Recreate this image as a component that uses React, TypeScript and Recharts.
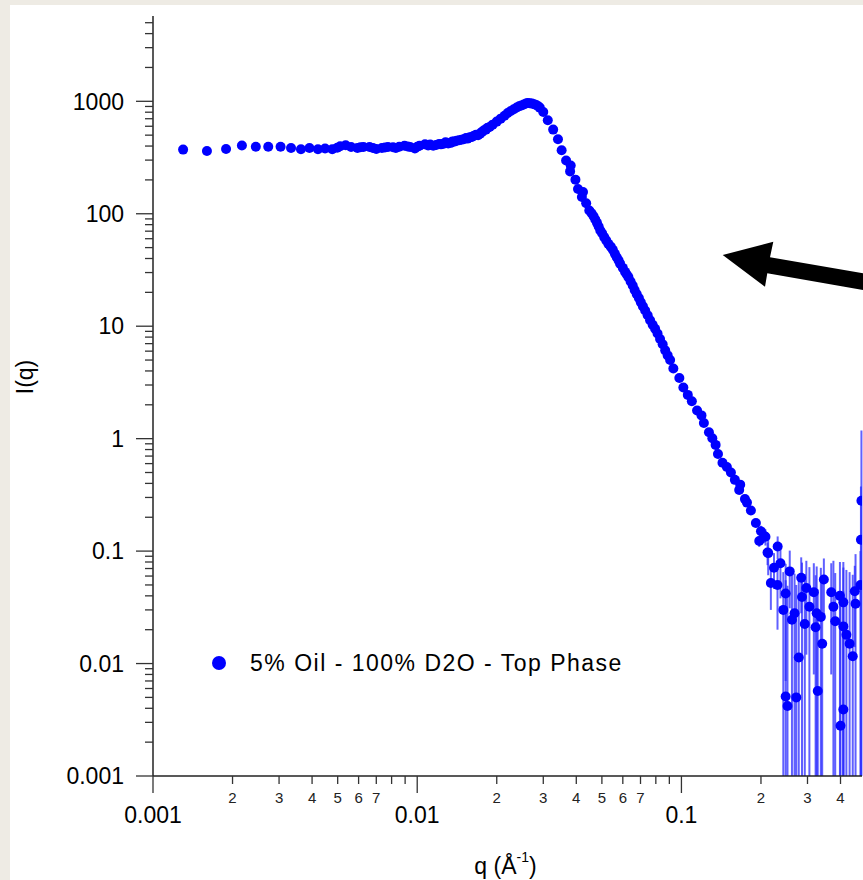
import { ErrorBar, Legend, Scatter, ScatterChart, XAxis, YAxis } from "recharts";

const FONT = "'Liberation Sans', Arial, sans-serif";
const seriesName = "5% Oil - 100% D2O - Top Phase";

// q (Å^-1), I(q) — low-q plateau
const plateau: [number, number][] = [
  [0.0013, 372], [0.0016, 362], [0.00189, 377], [0.00217, 404], [0.00245, 395], [0.00273, 395],
  [0.00304, 395], [0.00333, 384], [0.00363, 374], [0.00391, 384], [0.00421, 374], [0.00448, 381],
  [0.00477, 374], [0.00498, 386], [0.00511, 398], [0.00536, 406], [0.00562, 392], [0.00594, 384],
  [0.0061, 390], [0.00626, 392], [0.0066, 392], [0.0068, 385], [0.007, 376], [0.00735, 384],
  [0.00755, 388], [0.00775, 392], [0.0081, 390], [0.0083, 384], [0.00855, 395], [0.00895, 403],
  [0.0092, 396], [0.0094, 392], [0.0098, 381], [0.01, 395], [0.0102, 403], [0.0107, 414],
  [0.011, 405], [0.0112, 412], [0.0115, 403], [0.0118, 408], [0.0121, 418], [0.0123, 414],
  [0.0126, 420], [0.0128, 432], [0.0131, 422], [0.0134, 427], [0.0136, 440], [0.0138, 438],
  [0.0141, 446], [0.0144, 450], [0.0147, 455], [0.015, 460], [0.0153, 472], [0.0155, 466],
  [0.0158, 478], [0.0161, 481], [0.0164, 495], [0.0167, 505], [0.017, 500], [0.0173, 516],
  [0.0176, 535], [0.0179, 552], [0.0182, 560], [0.0184, 579],
];

// correlation peak and its fall-off
const peak: [number, number][] = [
  [0.0188, 592], [0.0193, 620], [0.02, 660], [0.0207, 701], [0.0214, 745], [0.022, 787],
  [0.0226, 820], [0.0232, 849], [0.0238, 880], [0.0243, 903], [0.0248, 920], [0.0253, 935],
  [0.0258, 955], [0.0262, 966], [0.0267, 962], [0.0272, 954], [0.0277, 942], [0.0282, 927],
  [0.0287, 905], [0.0291, 879], [0.03, 803], [0.0312, 678], [0.0327, 560], [0.0341, 459],
  [0.0352, 367], [0.0366, 298], [0.0379, 238], [0.0381, 269], [0.0397, 201], [0.0406, 166],
  [0.042, 141], [0.0424, 156], [0.0436, 124],
];

// power-law decay
const decay: [number, number][] = [
  [0.0448, 107], [0.0457, 101], [0.0465, 95], [0.0472, 89], [0.0479, 83], [0.0486, 77],
  [0.0493, 71], [0.0501, 67], [0.051, 62], [0.0519, 58], [0.0529, 54], [0.054, 51],
  [0.055, 47.9], [0.056, 44], [0.0569, 41], [0.0578, 38.5], [0.0586, 36], [0.06, 33],
  [0.0612, 30.4], [0.0621, 28.8], [0.063, 27.3], [0.0642, 25], [0.0654, 23], [0.0665, 21],
  [0.0677, 19.3], [0.069, 17.8], [0.0702, 16.3], [0.0715, 15], [0.0729, 13.8], [0.0745, 12.5],
  [0.0761, 11.3], [0.0778, 10.3], [0.0795, 9.5], [0.0812, 8.6], [0.083, 7.7], [0.0849, 6.9],
  [0.0868, 6.1], [0.0887, 5.5], [0.0906, 5], [0.0932, 4.21], [0.0982, 3.46], [0.1017, 2.85],
  [0.1057, 2.45], [0.1095, 2.15], [0.1146, 1.78], [0.1191, 1.61], [0.1216, 1.38], [0.1271, 1.14],
  [0.1309, 1.01], [0.1347, 0.88], [0.1375, 0.73], [0.143, 0.61], [0.1486, 0.56], [0.1539, 0.5],
  [0.1593, 0.43], [0.1654, 0.35], [0.1669, 0.39], [0.1739, 0.29], [0.177, 0.27], [0.1832, 0.23],
];

// noisy high-q points: q, I, sigma
const highQ: [number, number, number][] = [
  [0.1913, 0.178, 0.014], [0.197, 0.123, 0.014], [0.2, 0.15, 0.018], [0.2058, 0.136, 0.018],
  [0.208, 0.134, 0.022], [0.2118, 0.097, 0.022], [0.213, 0.096, 0.035], [0.218, 0.052, 0.022],
  [0.224, 0.071, 0.025], [0.2313, 0.11, 0.025], [0.231, 0.05, 0.03], [0.237, 0.078, 0.04],
  [0.243, 0.03, 0.035], [0.248, 0.042, 0.035], [0.248, 0.0051, 0.05], [0.252, 0.0042, 0.045],
  [0.257, 0.066, 0.035], [0.262, 0.0245, 0.04], [0.268, 0.028, 0.035], [0.272, 0.005, 0.045],
  [0.278, 0.0113, 0.05], [0.284, 0.058, 0.03], [0.286, 0.039, 0.04], [0.293, 0.0225, 0.04],
  [0.297, 0.047, 0.035], [0.305, 0.032, 0.04], [0.317, 0.043, 0.035], [0.322, 0.021, 0.04],
  [0.325, 0.028, 0.045], [0.328, 0.0057, 0.04], [0.337, 0.026, 0.045], [0.341, 0.015, 0.04],
  [0.346, 0.056, 0.03], [0.369, 0.043, 0.035], [0.376, 0.032, 0.05], [0.382, 0.0238, 0.04],
  [0.398, 0.04, 0.04], [0.4, 0.0028, 0.03], [0.41, 0.035, 0.045], [0.41, 0.0214, 0.05],
  [0.41, 0.0039, 0.04], [0.421, 0.018, 0.05], [0.433, 0.015, 0.05], [0.445, 0.0116, 0.05],
  [0.453, 0.044, 0.03], [0.456, 0.034, 0.06], [0.476, 0.05, 0.05], [0.478, 0.126, 0.25],
  [0.48, 0.28, 0.9],
];

const xDecades = [0.001, 0.01, 0.1];
const yDecades = [0.001, 0.01, 0.1, 1, 10, 100, 1000];
const mantissas = [1, 2, 3, 4, 5, 6, 7, 8, 9];
const xDomain: [number, number] = [0.001, 0.4824];
const yDomain: [number, number] = [0.001, 5736];

const xTicks = xDecades.flatMap((d) => mantissas.map((m) => m * d)).filter((v) => v <= xDomain[1]);
const yTicks = yDecades.flatMap((d) => mantissas.map((m) => m * d)).filter((v) => v <= yDomain[1]);

const points = [
  ...[...plateau, ...peak, ...decay].map(([q, i]) => ({ q, i, err: [0, 0] })),
  // lower error clipped at the axis floor so the log scale stays finite
  ...highQ.map(([q, i, s]) => ({ q, i, err: [Math.min(s, i - yDomain[0]), s] })),
];

function mantissaOf(v: number) {
  const exp = Math.floor(Math.log10(v) + 1e-9);
  return Math.round(v / 10 ** exp);
}

function XTick({ x, y, payload }: any) {
  const m = mantissaOf(payload.value);
  const major = m === 1;
  return (
    <g>
      <line x1={x} x2={x} y1={y} y2={y + (major ? 17 : 8)} stroke="#333" strokeWidth={1.3} />
      {major ? (
        <text x={x} y={y + 47} textAnchor="middle" fontSize={23} fontFamily={FONT} fill="#000">
          {String(payload.value)}
        </text>
      ) : m <= 7 ? (
        <text x={x} y={y + 27} textAnchor="middle" fontSize={15} fontFamily={FONT} fill="#222">
          {m}
        </text>
      ) : null}
    </g>
  );
}

function YTick({ x, y, payload }: any) {
  const major = mantissaOf(payload.value) === 1;
  return (
    <g>
      <line x1={x - (major ? 17 : 8)} x2={x} y1={y} y2={y} stroke="#333" strokeWidth={1.3} />
      {major && (
        <text x={x - 29} y={y} dy="0.36em" textAnchor="end" fontSize={23} fontFamily={FONT} fill="#000">
          {String(payload.value)}
        </text>
      )}
    </g>
  );
}

function XTitle({ viewBox }: any) {
  const cx = viewBox.x + viewBox.width / 2;
  const base = viewBox.y + 98;
  return (
    <text x={cx - 2} y={base} textAnchor="middle" fontSize={23} fontFamily={FONT} fill="#000">
      q (Å<tspan dy={-12} fontSize={14}>-1</tspan>
      <tspan dy={12}>)</tspan>
    </text>
  );
}

function YTitle({ viewBox }: any) {
  const cy = viewBox.y + viewBox.height / 2 - 19;
  return (
    <text x={33} y={cy} transform={`rotate(-90, 33, ${cy})`} textAnchor="middle" fontSize={23} fontFamily={FONT} fill="#000">
      I(q)
    </text>
  );
}

function Dot({ cx, cy }: any) {
  return <circle cx={cx} cy={cy} r={5} fill="#0000FF" />;
}

function LegendBox({ payload }: any) {
  const item = payload?.[0];
  return (
    <div style={{ display: "flex", alignItems: "center", fontFamily: FONT, fontSize: 23, letterSpacing: 1.5, lineHeight: "26px", color: "#000", whiteSpace: "nowrap" }}>
      <svg width={16} height={16}>
        <circle cx={8} cy={8} r={7} fill="#0000FF" />
      </svg>
      <span style={{ marginLeft: 23 }}>{item?.value ?? seriesName}</span>
    </div>
  );
}

export default function App() {
  return (
    <div style={{ position: "absolute", left: 0, top: 0, width: 863, height: 880, background: "#EEEBE4", overflow: "hidden" }}>
      <div style={{ position: "absolute", left: 10, top: 5, right: 0, bottom: 0, background: "#FFFFFF" }} />
      <div style={{ position: "absolute", left: 0, top: 0 }}>
        <ScatterChart width={863} height={880} margin={{ top: 16, right: 1, bottom: 0, left: 0 }}>
          <XAxis
            type="number"
            dataKey="q"
            scale="log"
            domain={xDomain}
            allowDataOverflow
            ticks={xTicks}
            interval={0}
            tick={<XTick />}
            tickLine={false}
            tickSize={0}
            tickMargin={0}
            height={104}
            axisLine={{ stroke: "#222", strokeWidth: 1.5 }}
            label={{ content: XTitle }}
          />
          <XAxis xAxisId="top" orientation="top" type="number" scale="log" domain={xDomain} allowDataOverflow height={0} tick={false} tickLine={false} axisLine={{ stroke: "#666", strokeWidth: 2 }} />
          <YAxis
            type="number"
            dataKey="i"
            scale="log"
            domain={yDomain}
            allowDataOverflow
            ticks={yTicks}
            interval={0}
            tick={<YTick />}
            tickLine={false}
            tickSize={0}
            tickMargin={0}
            width={153}
            axisLine={{ stroke: "#222", strokeWidth: 1.5 }}
            label={{ content: YTitle }}
          />
          <YAxis yAxisId="right" orientation="right" type="number" scale="log" domain={yDomain} allowDataOverflow width={0} tick={false} tickLine={false} axisLine={{ stroke: "#666", strokeWidth: 2 }} />
          <Legend
            layout="horizontal"
            verticalAlign="middle"
            align="center"
            wrapperStyle={{ left: 211, top: 650, width: "auto" }}
            content={LegendBox}
          />
          <Scatter name={seriesName} data={points} fill="#0000FF" shape={<Dot />} isAnimationActive={false}>
            <ErrorBar dataKey="err" direction="y" width={0} stroke="#2B2BFF" strokeOpacity={0.75} strokeWidth={2} />
          </Scatter>
        </ScatterChart>
      </div>
      <svg width={863} height={880} style={{ position: "absolute", left: 0, top: 0, pointerEvents: "none" }}>
        <polygon points="722.7,255 773.3,241.7 770,257.3 863,273.3 863,290 767.3,273.3 765,286.7" fill="#000" />
      </svg>
    </div>
  );
}
